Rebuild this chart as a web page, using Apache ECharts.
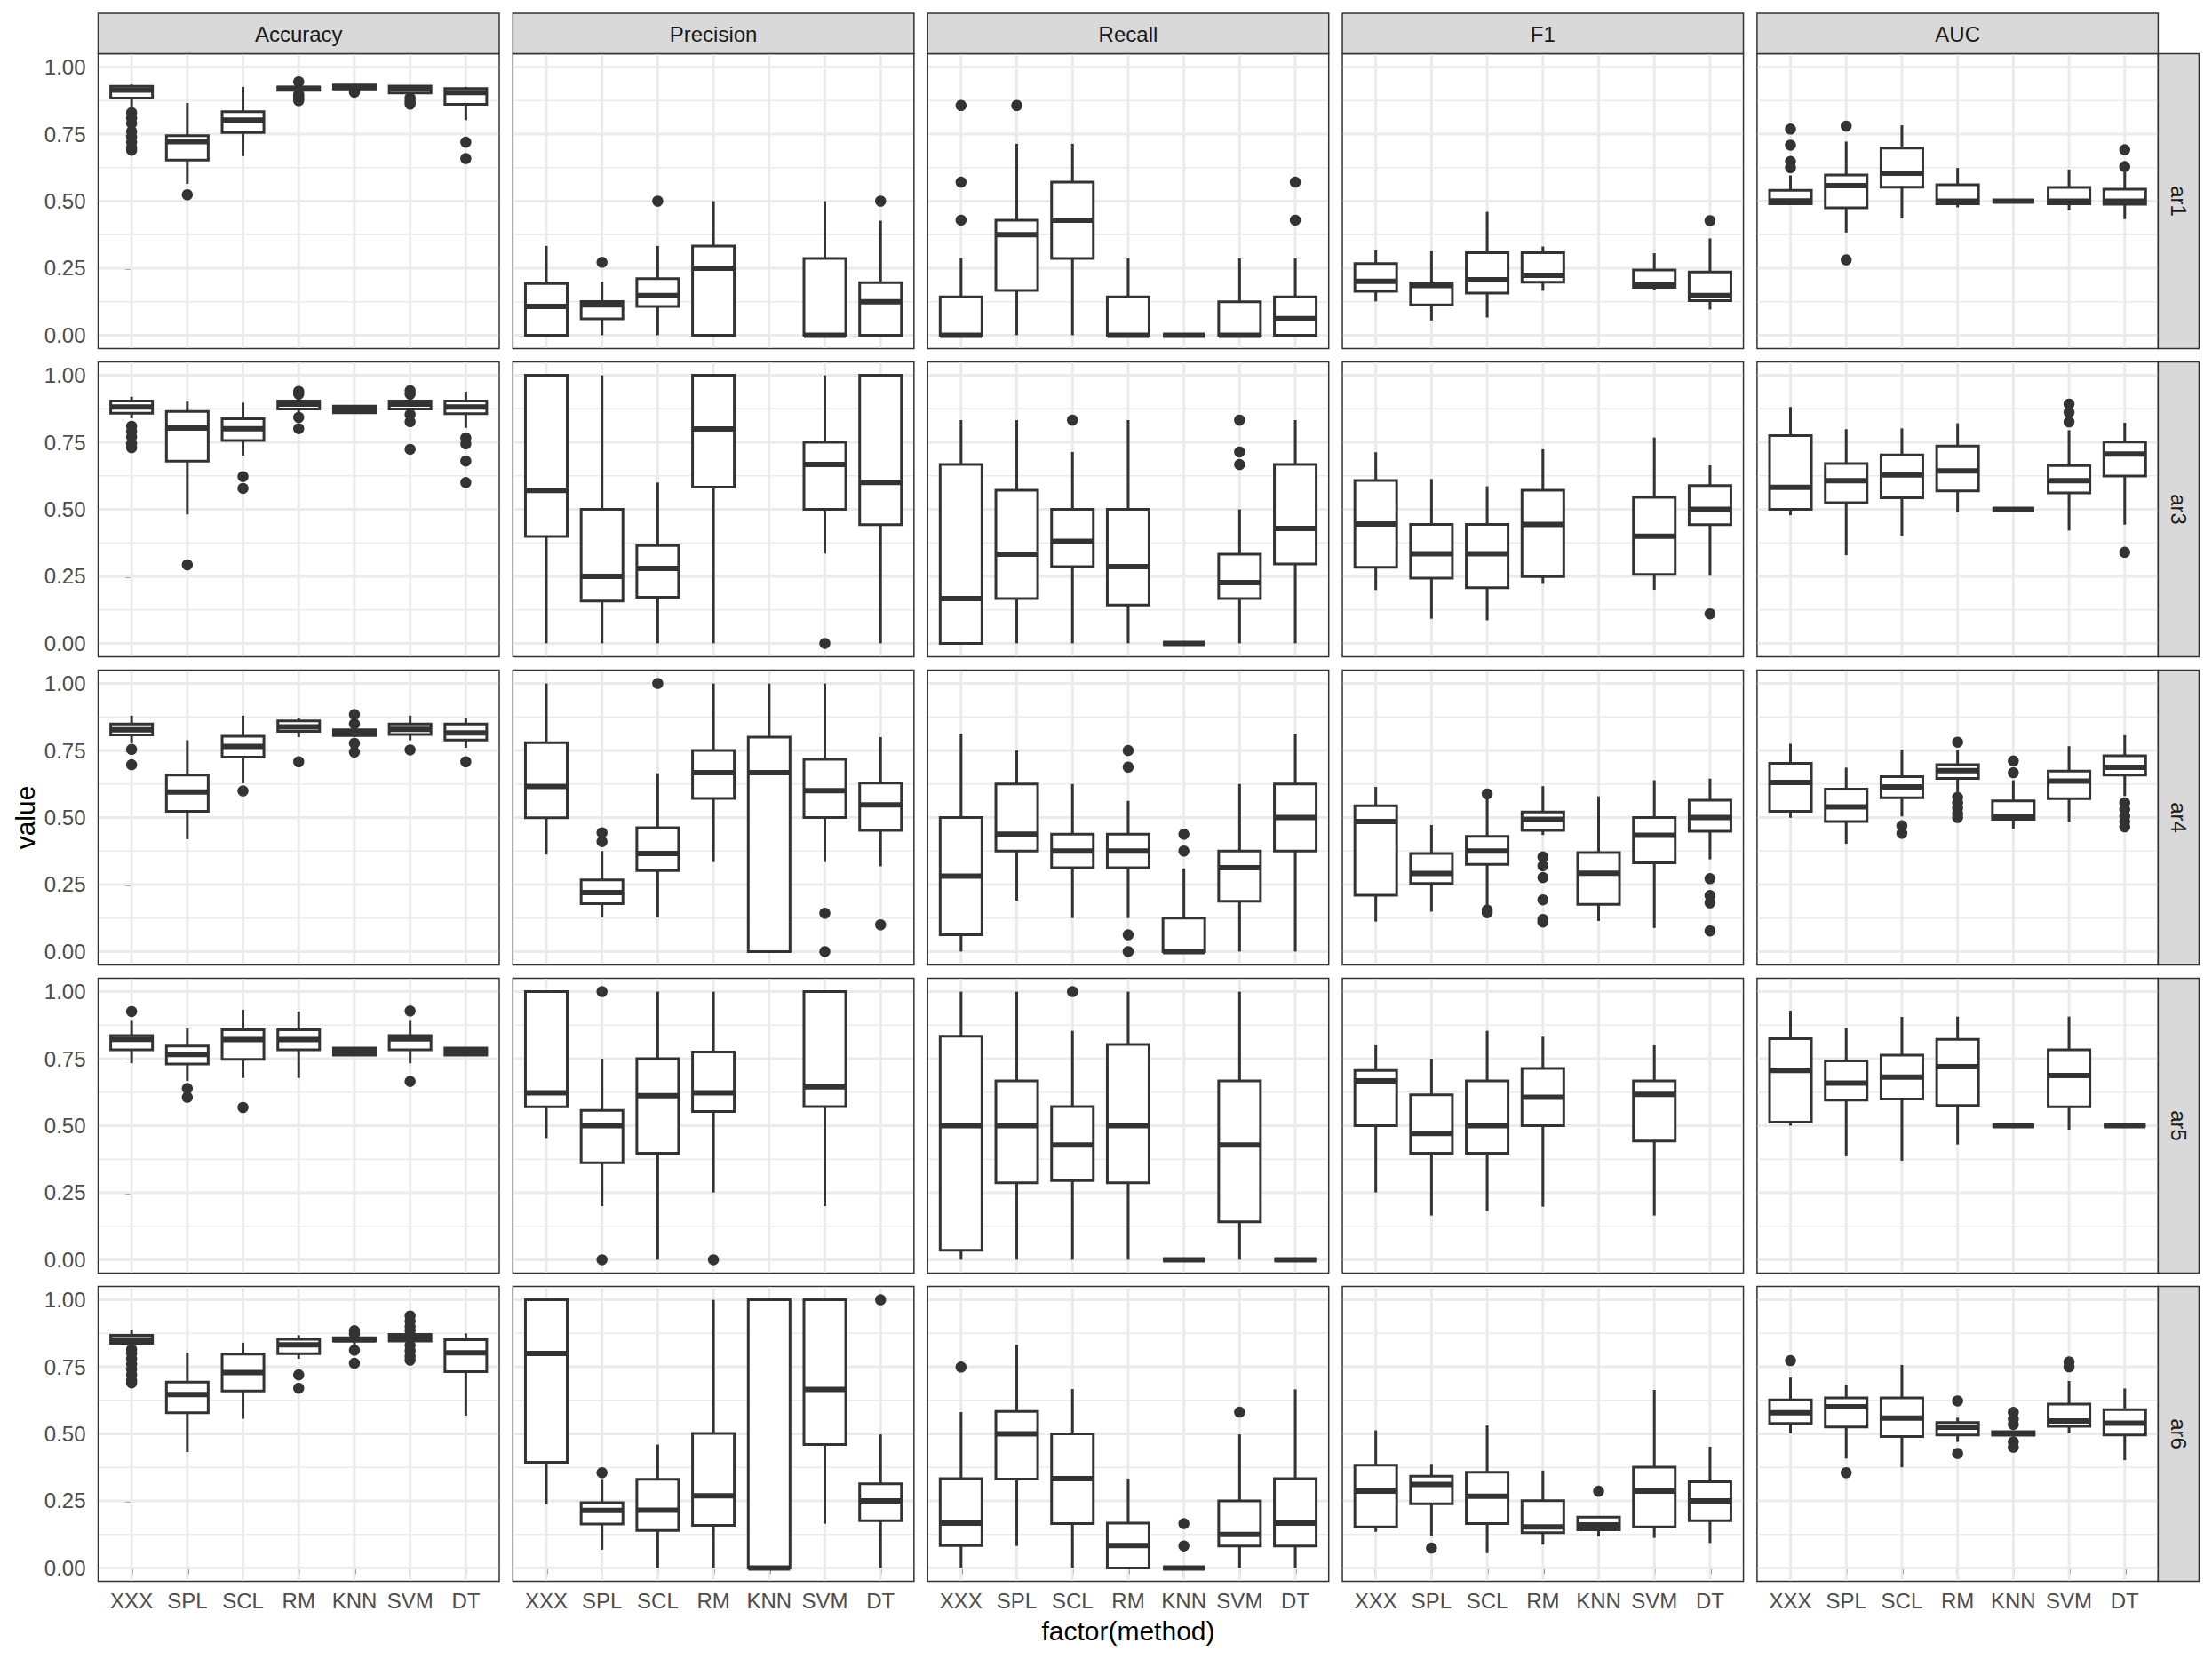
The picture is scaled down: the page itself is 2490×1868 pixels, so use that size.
<!DOCTYPE html>
<html><head><meta charset="utf-8">
<script src="https://cdn.jsdelivr.net/npm/echarts@6/dist/echarts.min.js"></script>
<style>html,body{margin:0;padding:0;background:#fff}#chart{width:2490px;height:1868px}</style>
</head><body><div id="chart"></div>
<script>
// ---------- categories / labels ----------
const methods = ['XXX','SPL','SCL','RM','KNN','SVM','DT'];
const metrics = ['Accuracy','Precision','Recall','F1','AUC'];
const runs = ['ar1','ar3','ar4','ar5','ar6'];
const yTicks = [0, 0.25, 0.5, 0.75, 1];
const yTickLabels = ['0.00','0.25','0.50','0.75','1.00'];
const yMinorTicks = [0.125, 0.375, 0.625, 0.875];
const xTitle = 'factor(method)';
const yTitle = 'value';

// ---------- box stats: [lowerWhisker, Q1, median, Q3, upperWhisker] per method (null = no box) ----------
// ---------- outliers: list per method ----------
const ar1_Accuracy = [[0.847,0.884,0.914,0.928,0.935],[0.565,0.653,0.722,0.744,0.866],[0.668,0.756,0.802,0.834,0.926],[0.905,0.913,0.92,0.926,0.935],[0.918,0.918,0.925,0.933,0.936],[0.895,0.903,0.922,0.929,0.932],[0.802,0.861,0.905,0.92,0.926]];
const ar1_Accuracy_out = [[0.83,0.81,0.79,0.76,0.74,0.72,0.70,0.69],[0.524],[],[0.945,0.898,0.89,0.882,0.875],[0.912,0.906],[0.885,0.872,0.862],[0.72,0.659]];
const ar1_Precision = [[0,0,0.107,0.193,0.333],[0,0.061,0.113,0.126,0.199],[0,0.107,0.148,0.211,0.333],[0,0,0.25,0.333,0.5],null,[0,0,0,0.286,0.5],[0,0,0.125,0.196,0.427]];
const ar1_Precision_out = [[],[0.272],[0.5],[],[],[],[0.5]];
const ar1_Recall = [[0,0,0,0.143,0.286],[0,0.167,0.375,0.429,0.714],[0,0.286,0.429,0.571,0.714],[0,0,0,0.143,0.286],[0,0,0,0,0],[0,0,0,0.125,0.286],[0,0,0.062,0.143,0.286]];
const ar1_Recall_out = [[0.429,0.571,0.857],[0.857],[],[],[],[],[0.429,0.571]];
const ar1_F1 = [[0.126,0.164,0.201,0.267,0.317],[0.055,0.113,0.185,0.195,0.313],[0.066,0.157,0.207,0.308,0.46],[0.166,0.198,0.223,0.308,0.331],null,[0.168,0.179,0.188,0.243,0.306],[0.096,0.129,0.148,0.236,0.361]];
const ar1_F1_out = [[],[],[],[],[],[],[0.427]];
const ar1_AUC = [[0.486,0.49,0.501,0.541,0.596],[0.383,0.475,0.558,0.598,0.722],[0.436,0.552,0.604,0.698,0.783],[0.477,0.49,0.5,0.561,0.624],[0.5,0.5,0.5,0.5,0.5],[0.466,0.49,0.5,0.551,0.618],[0.433,0.488,0.5,0.545,0.609]];
const ar1_AUC_out = [[0.769,0.709,0.648,0.625],[0.78,0.281],[],[],[],[],[0.692,0.629]];

const ar3_Accuracy = [[0.84,0.859,0.882,0.904,0.92],[0.481,0.68,0.803,0.865,0.902],[0.70,0.757,0.801,0.838,0.898],[0.862,0.874,0.893,0.904,0.915],[0.86,0.86,0.873,0.885,0.885],[0.862,0.874,0.893,0.904,0.92],[0.804,0.857,0.882,0.904,0.939]];
const ar3_Accuracy_out = [[0.81,0.79,0.77,0.745,0.73],[0.293],[0.622,0.578],[0.94,0.93,0.843,0.801],[],[0.943,0.93,0.854,0.827,0.724],[0.766,0.744,0.68,0.6]];
const ar3_Precision = [[0,0.399,0.57,1,1],[0,0.158,0.25,0.5,1],[0,0.172,0.28,0.365,0.6],[0,0.583,0.8,1,1],null,[0.335,0.5,0.667,0.75,1],[0,0.443,0.6,1,1]];
const ar3_Precision_out = [[],[],[],[],[],[0],[]];
const ar3_Recall = [[0,0,0.167,0.667,0.833],[0,0.167,0.333,0.571,0.833],[0,0.286,0.381,0.5,0.714],[0,0.143,0.286,0.5,0.833],[0,0,0,0,0],[0,0.167,0.227,0.333,0.5],[0,0.296,0.429,0.667,0.833]];
const ar3_Recall_out = [[],[],[0.833],[],[],[0.833,0.714,0.667],[]];
const ar3_F1 = [[0.199,0.284,0.445,0.608,0.713],[0.092,0.243,0.334,0.444,0.613],[0.086,0.208,0.334,0.444,0.586],[0.222,0.249,0.444,0.571,0.724],null,[0.2,0.257,0.4,0.545,0.768],[0.252,0.443,0.5,0.589,0.664]];
const ar3_F1_out = [[],[],[],[],[],[],[0.11]];
const ar3_AUC = [[0.478,0.5,0.582,0.775,0.882],[0.329,0.525,0.607,0.671,0.799],[0.401,0.543,0.628,0.703,0.802],[0.49,0.569,0.643,0.736,0.821],[0.5,0.5,0.5,0.5,0.5],[0.421,0.561,0.607,0.663,0.795],[0.443,0.624,0.706,0.751,0.823]];
const ar3_AUC_out = [[],[],[],[],[],[0.826,0.862,0.893],[0.34]];

const ar4_Accuracy = [[0.777,0.808,0.827,0.849,0.88],[0.419,0.523,0.595,0.658,0.788],[0.628,0.725,0.765,0.803,0.88],[0.8,0.821,0.838,0.86,0.871],[0.80,0.806,0.818,0.827,0.835],[0.788,0.81,0.829,0.849,0.88],[0.76,0.789,0.816,0.849,0.871]];
const ar4_Accuracy_out = [[0.754,0.697],[],[0.599],[0.708],[0.884,0.849,0.777,0.744],[0.752],[0.708]];
const ar4_Precision = [[0.362,0.499,0.616,0.779,1],[0.127,0.179,0.22,0.267,0.375],[0.127,0.302,0.366,0.462,0.665],[0.334,0.571,0.667,0.75,1],[0,0,0.667,0.8,1],[0.334,0.5,0.6,0.717,1],[0.318,0.452,0.547,0.628,0.8]];
const ar4_Precision_out = [[],[0.443,0.41],[1],[],[],[0.143,0],[0.1]];
const ar4_Recall = [[0,0.0625,0.281,0.5,0.813],[0.19,0.375,0.438,0.625,0.75],[0.125,0.3125,0.375,0.4375,0.625],[0.125,0.3125,0.375,0.4375,0.562],[0,0,0,0.125,0.31],[0,0.1875,0.3125,0.375,0.625],[0,0.375,0.5,0.625,0.8125]];
const ar4_Recall_out = [[],[],[],[0.75,0.688,0.0625,0],[0.4375,0.375],[],[]];
const ar4_F1 = [[0.112,0.21,0.485,0.544,0.614],[0.149,0.254,0.291,0.366,0.472],[0.171,0.325,0.375,0.43,0.573],[0.435,0.452,0.493,0.521,0.617],[0.114,0.176,0.292,0.369,0.579],[0.088,0.331,0.434,0.5,0.639],[0.344,0.449,0.5,0.565,0.645]];
const ar4_F1_out = [[],[],[0.588,0.155,0.145],[0.353,0.32,0.276,0.193,0.12,0.11],[],[],[0.272,0.209,0.182,0.077]];
const ar4_AUC = [[0.499,0.523,0.631,0.702,0.775],[0.402,0.485,0.54,0.606,0.686],[0.504,0.574,0.614,0.652,0.753],[0.595,0.646,0.675,0.697,0.75],[0.458,0.493,0.502,0.562,0.639],[0.485,0.57,0.636,0.673,0.766],[0.58,0.658,0.687,0.73,0.807]];
const ar4_AUC_out = [[],[],[0.469,0.441],[0.781,0.575,0.555,0.535,0.515,0.5],[0.711,0.667],[],[0.555,0.53,0.505,0.485,0.465]];

const ar5_Accuracy = [[0.733,0.783,0.822,0.836,0.891],[0.667,0.73,0.766,0.797,0.863],[0.678,0.748,0.821,0.858,0.932],[0.678,0.783,0.821,0.858,0.926],[0.763,0.763,0.777,0.79,0.79],[0.733,0.783,0.824,0.836,0.891],[0.763,0.763,0.777,0.79,0.79]];
const ar5_Accuracy_out = [[0.926],[0.639,0.606],[0.568],[],[],[0.928,0.665],[]];
const ar5_Precision = [[0.454,0.57,0.623,1,1],[0.2,0.362,0.5,0.557,0.75],[0,0.397,0.612,0.75,1],[0.251,0.553,0.623,0.775,1],null,[0.2,0.571,0.645,1,1],null];
const ar5_Precision_out = [[],[1,0],[],[0],[],[],[]];
const ar5_Recall = [[0,0.035,0.5,0.834,1],[0,0.287,0.5,0.667,1],[0,0.295,0.428,0.571,0.854],[0,0.287,0.5,0.803,1],[0,0,0,0,0],[0,0.141,0.428,0.667,1],[0,0,0,0,0]];
const ar5_Recall_out = [[],[],[1],[],[],[],[]];
const ar5_F1 = [[0.251,0.5,0.667,0.706,0.8],[0.165,0.397,0.471,0.615,0.75],[0.182,0.397,0.5,0.667,0.854],[0.198,0.5,0.606,0.714,0.832],null,[0.165,0.443,0.617,0.667,0.8],null];
const ar5_F1_out = [[],[],[],[],[],[],[]];
const ar5_AUC = [[0.5,0.513,0.706,0.825,0.929],[0.386,0.595,0.659,0.742,0.863],[0.369,0.599,0.681,0.763,0.906],[0.43,0.575,0.72,0.822,0.907],[0.5,0.5,0.5,0.5,0.5],[0.485,0.57,0.687,0.783,0.907],[0.5,0.5,0.5,0.5,0.5]];
const ar5_AUC_out = [[],[],[],[],[],[],[]];

const ar6_Accuracy = [[0.83,0.838,0.851,0.868,0.888],[0.432,0.579,0.647,0.693,0.802],[0.556,0.66,0.729,0.797,0.84],[0.78,0.799,0.832,0.853,0.868],[0.83,0.846,0.851,0.859,0.868],[0.84,0.846,0.859,0.871,0.875],[0.568,0.732,0.802,0.851,0.875]];
const ar6_Accuracy_out = [[0.815,0.80,0.78,0.76,0.74,0.72,0.70,0.69],[],[],[0.72,0.67],[0.885,0.873,0.812,0.763],[0.94,0.92,0.90,0.885,0.83,0.81,0.79,0.775],[]];
const ar6_Precision = [[0.237,0.394,0.8,1,1],[0.068,0.164,0.214,0.243,0.331],[0,0.14,0.215,0.33,0.46],[0,0.159,0.269,0.502,1],[0,0,0,1,1],[0.165,0.46,0.666,1,1],[0,0.176,0.25,0.314,0.498]];
const ar6_Precision_out = [[],[0.355],[],[],[],[],[1]];
const ar6_Recall = [[0,0.083,0.167,0.333,0.581],[0.082,0.331,0.5,0.584,0.832],[0,0.165,0.333,0.5,0.667],[0,0,0.083,0.167,0.333],[0,0,0,0,0],[0,0.082,0.125,0.25,0.498],[0,0.082,0.167,0.333,0.666]];
const ar6_Recall_out = [[0.749],[],[],[],[0.165,0.082],[0.581],[]];
const ar6_F1 = [[0.135,0.153,0.286,0.383,0.513],[0.12,0.239,0.311,0.342,0.388],[0.055,0.165,0.267,0.357,0.531],[0.087,0.131,0.153,0.251,0.363],[0.118,0.142,0.16,0.189,0.19],[0.112,0.153,0.286,0.376,0.664],[0.093,0.176,0.25,0.321,0.452]];
const ar6_F1_out = [[],[0.074],[],[],[0.286],[],[]];
const ar6_AUC = [[0.502,0.539,0.579,0.627,0.71],[0.408,0.526,0.601,0.634,0.684],[0.375,0.49,0.559,0.634,0.757],[0.47,0.496,0.525,0.542,0.56],[0.49,0.495,0.502,0.508,0.51],[0.502,0.528,0.548,0.611,0.697],[0.402,0.496,0.54,0.59,0.669]];
const ar6_AUC_out = [[0.773],[0.355],[],[0.623,0.427],[0.58,0.555,0.535,0.47,0.45],[0.768,0.75],[]];

// lookup table built from the named arrays
const BOX = {
  ar1:{Accuracy:[ar1_Accuracy,ar1_Accuracy_out],Precision:[ar1_Precision,ar1_Precision_out],Recall:[ar1_Recall,ar1_Recall_out],F1:[ar1_F1,ar1_F1_out],AUC:[ar1_AUC,ar1_AUC_out]},
  ar3:{Accuracy:[ar3_Accuracy,ar3_Accuracy_out],Precision:[ar3_Precision,ar3_Precision_out],Recall:[ar3_Recall,ar3_Recall_out],F1:[ar3_F1,ar3_F1_out],AUC:[ar3_AUC,ar3_AUC_out]},
  ar4:{Accuracy:[ar4_Accuracy,ar4_Accuracy_out],Precision:[ar4_Precision,ar4_Precision_out],Recall:[ar4_Recall,ar4_Recall_out],F1:[ar4_F1,ar4_F1_out],AUC:[ar4_AUC,ar4_AUC_out]},
  ar5:{Accuracy:[ar5_Accuracy,ar5_Accuracy_out],Precision:[ar5_Precision,ar5_Precision_out],Recall:[ar5_Recall,ar5_Recall_out],F1:[ar5_F1,ar5_F1_out],AUC:[ar5_AUC,ar5_AUC_out]},
  ar6:{Accuracy:[ar6_Accuracy,ar6_Accuracy_out],Precision:[ar6_Precision,ar6_Precision_out],Recall:[ar6_Recall,ar6_Recall_out],F1:[ar6_F1,ar6_F1_out],AUC:[ar6_AUC,ar6_AUC_out]}
};

// ---------- layout ----------
const FONT = "'Liberation Sans', Arial, Helvetica, sans-serif";
const P_LEFT0 = 110.5, P_PITCH_X = 466.85, P_W = 451.5;
const P_TOP0 = 60.5, P_PITCH_Y = 347, P_H = 332;
const STRIP_TOP = 15, STRIP_W = 46;
const INK = '#333333', GRIDC = '#EBEBEB';
const X_MIN = -0.6, X_MAX = methods.length - 1 + 0.6;
const Y_MIN = -0.05, Y_MAX = 1.05;
const BOX_W = 0.75;

const grids = [], xAxes = [], yAxes = [], series = [], graphics = [];

const gridData = [];
yTicks.forEach(v => gridData.push([0, v]));
yMinorTicks.forEach(v => gridData.push([1, v]));
methods.forEach((m, i) => gridData.push([2, i]));

function gridRender(params, api) {
  const cs = params.coordSys;
  const kind = api.value(0), v = api.value(1);
  if (kind === 2) {
    const p = api.coord([v, 0]);
    return {type:'line', shape:{x1:p[0], y1:cs.y + 0.8, x2:p[0], y2:cs.y + cs.height - 0.8},
            style:{stroke:GRIDC, lineWidth:3}};
  }
  const p = api.coord([0, v]);
  return {type:'line', shape:{x1:cs.x + 0.8, y1:p[1], x2:cs.x + cs.width - 0.8, y2:p[1]},
          style:{stroke:GRIDC, lineWidth: kind === 0 ? 3 : 1.5}};
}

function boxRender(params, api) {
  const x = api.value(0);
  const lo = api.coord([x, api.value(1)]);
  const q1 = api.coord([x, api.value(2)]);
  const md = api.coord([x, api.value(3)]);
  const q3 = api.coord([x, api.value(4)]);
  const hi = api.coord([x, api.value(5)]);
  const hw = api.size([BOX_W, 0])[0] / 2;
  const cx = q1[0];
  return {type:'group', children:[
    {type:'line', shape:{x1:cx, y1:q3[1], x2:cx, y2:hi[1]}, style:{stroke:INK, lineWidth:3}},
    {type:'line', shape:{x1:cx, y1:q1[1], x2:cx, y2:lo[1]}, style:{stroke:INK, lineWidth:3}},
    {type:'rect', shape:{x:cx - hw, y:q3[1], width:2*hw, height:q1[1]-q3[1]},
     style:{fill:'#ffffff', stroke:INK, lineWidth:3}},
    {type:'line', shape:{x1:cx - hw, y1:md[1], x2:cx + hw, y2:md[1]}, style:{stroke:INK, lineWidth:6}}
  ]};
}

runs.forEach((run, r) => {
  metrics.forEach((met, c) => {
    const g = r * metrics.length + c;
    const left = P_LEFT0 + c * P_PITCH_X;
    const top = P_TOP0 + r * P_PITCH_Y;
    grids.push({left, top, width:P_W, height:P_H, show:true, backgroundColor:'#ffffff',
                borderColor:INK, borderWidth:1.5, containLabel:false});
    const bottom = r === runs.length - 1, leftCol = c === 0;
    xAxes.push({type:'value', gridIndex:g, min:X_MIN, max:X_MAX,
      axisLine:{show:false}, splitLine:{show:false}, minorTick:{show:false},
      axisTick:{show:bottom, customValues:methods.map((m,i)=>i), length:7, lineStyle:{color:INK, width:2.5}},
      axisLabel:{show:bottom, customValues:methods.map((m,i)=>i), formatter:v => methods[Math.round(v)],
        color:'#4D4D4D', fontSize:24, fontFamily:FONT, margin:10}});
    yAxes.push({type:'value', gridIndex:g, min:Y_MIN, max:Y_MAX,
      axisLine:{show:false}, splitLine:{show:false},
      axisTick:{show:leftCol, customValues:yTicks, length:7, lineStyle:{color:INK, width:2.5}},
      axisLabel:{show:leftCol, customValues:yTicks, formatter:v => yTickLabels[yTicks.findIndex(t => Math.abs(t - v) < 1e-9)],
        color:'#4D4D4D', fontSize:24, fontFamily:FONT, margin:14}});
    series.push({type:'custom', xAxisIndex:g, yAxisIndex:g, renderItem:gridRender, data:gridData,
      silent:true, z:1, encode:{x:1, y:1}});
    const [stats, outs] = BOX[run][met];
    const boxData = [];
    stats.forEach((s, i) => { if (s) boxData.push([i, s[0], s[1], s[2], s[3], s[4]]); });
    series.push({type:'custom', xAxisIndex:g, yAxisIndex:g, renderItem:boxRender, data:boxData,
      z:3, encode:{x:0, y:[1,2,3,4,5]}});
    const outData = [];
    outs.forEach((arr, i) => arr.forEach(v => outData.push([i, v])));
    series.push({type:'scatter', xAxisIndex:g, yAxisIndex:g, data:outData, symbol:'circle',
      symbolSize:12.5, itemStyle:{color:INK, opacity:1}, z:2, clip:false});
  });
});

// facet strips (top: metrics, right: runs)
metrics.forEach((met, c) => {
  const left = P_LEFT0 + c * P_PITCH_X;
  graphics.push({type:'rect', shape:{x:left, y:STRIP_TOP, width:P_W, height:P_TOP0 - STRIP_TOP},
    style:{fill:'#D9D9D9', stroke:INK, lineWidth:1.5}, z:10});
  graphics.push({type:'text', x:left + P_W/2, y:(STRIP_TOP + P_TOP0)/2 + 1,
    style:{text:met, fill:'#1A1A1A', fontSize:24, fontFamily:FONT, align:'center', verticalAlign:'middle'}, z:11});
});
const stripX = P_LEFT0 + (metrics.length - 1) * P_PITCH_X + P_W;
runs.forEach((run, r) => {
  const top = P_TOP0 + r * P_PITCH_Y;
  graphics.push({type:'rect', shape:{x:stripX, y:top, width:STRIP_W, height:P_H},
    style:{fill:'#D9D9D9', stroke:INK, lineWidth:1.5}, z:10});
  graphics.push({type:'text', x:stripX + STRIP_W/2, y:top + P_H/2, rotation:-Math.PI/2,
    style:{text:run, fill:'#1A1A1A', fontSize:24, fontFamily:FONT, align:'center', verticalAlign:'middle'}, z:11});
});
// axis titles
const panelsRight = stripX;
graphics.push({type:'text', x:(P_LEFT0 + panelsRight)/2, y:1836,
  style:{text:xTitle, fill:'#000000', fontSize:30, fontFamily:FONT, align:'center', verticalAlign:'middle'}, z:11});
graphics.push({type:'text', x:28, y:P_TOP0 + ((runs.length - 1) * P_PITCH_Y + P_H)/2, rotation:Math.PI/2,
  style:{text:yTitle, fill:'#000000', fontSize:30, fontFamily:FONT, align:'center', verticalAlign:'middle'}, z:11});

const chart = echarts.init(document.getElementById('chart'), null, {renderer:'svg', width:2490, height:1868});
chart.setOption({
  backgroundColor:'#ffffff',
  animation:false,
  grid:grids, xAxis:xAxes, yAxis:yAxes, series:series, graphic:graphics
});
</script></body></html>
